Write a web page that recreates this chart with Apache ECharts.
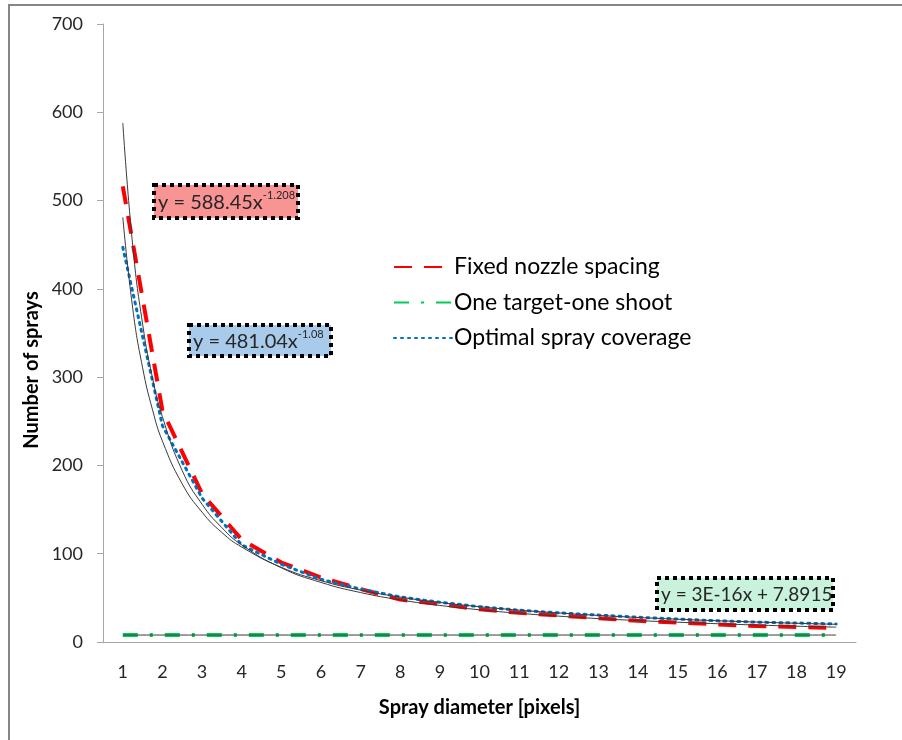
<!DOCTYPE html>
<html>
<head>
<meta charset="utf-8">
<title>Number of sprays vs spray diameter</title>
<script src="https://cdn.jsdelivr.net/npm/echarts@6/dist/echarts.min.js"></script>
<style>
  html, body { margin: 0; padding: 0; background: #fff; }
  #chart { width: 902px; height: 740px; }
</style>
</head>
<body>
<div id="chart"></div>
<script>
// spray diameter [pixels]
var categories = ['1', '2', '3', '4', '5', '6', '7', '8', '9', '10', '11', '12', '13', '14', '15', '16', '17', '18', '19']
var yTicks = [0, 100, 200, 300, 400, 500, 600, 700]

// number of sprays
var fixedNozzle = [516, 262, 168, 116, 90, 73, 60, 48, 43, 37, 33, 30, 27, 24, 22, 20, 18, 17, 16]
var oneTarget = [7.9, 7.9, 7.9, 7.9, 7.9, 7.9, 7.9, 7.9, 7.9, 7.9, 7.9, 7.9, 7.9, 7.9, 7.9, 7.9, 7.9, 7.9, 7.9]
var optimalCoverage = [447, 245, 163, 110, 88, 71, 60, 51, 45, 40, 36, 33, 30.5, 28, 26, 24, 22.5, 21.5, 20.5]

// trendlines at these diameters
var trendX = [1, 1.25, 1.5, 1.75, 2, 2.5, 3, 3.5, 4, 5, 6, 7, 8, 9, 10, 11, 12, 13, 14, 15, 16, 17, 18, 19]
var trendFixedY = [588, 449, 360, 299, 255, 194, 156, 129.5, 110, 84, 67.5, 56, 47.7, 41.4, 36.5, 32.5, 29.3, 26.5, 24.3, 22.4, 20.7, 19.2, 17.9, 16.8]
var trendOptimalY = [481, 378, 310.5, 263, 227.5, 179, 147, 124, 107.6, 84.6, 69.5, 58.8, 50.9, 44.8, 40, 36.1, 32.9, 30.1, 27.8, 25.8, 24.1, 22.6, 21.2, 20]
var trendOneTargetX = [1, 19]
var trendOneTargetY = [7.89, 7.89]

var FONT = 'Lato, "Open Sans", sans-serif'
var TEXT = '#262626'

var chart = echarts.init(document.getElementById('chart'))

function pairs(xs, ys) {
  return xs.map(function(x, i) { return [x, ys[i]] })
}

function trend(data) {
  return {
    type: 'line',
    xAxisIndex: 1,
    data: data,
    symbol: 'none',
    smooth: true,
    silent: true,
    lineStyle: { color: '#3a3a3a', width: 1 },
    z: 3
  }
}

// equation box: dotted border + rich text with superscript
function eqBox(x, y, w, h, fill, size, main, sup) {
  return {
    type: 'group',
    children: [{
      type: 'rect',
      shape: { x: x, y: y, width: w, height: h },
      style: { fill: fill, stroke: '#000', lineWidth: 4, lineDash: [4, 4] },
      z: 10
    }, {
      type: 'text',
      x: x + 4,
      y: y + h / 2 + 1,
      style: {
        text: sup ? '{a|' + main + '}{b|' + sup + '}' : '{a|' + main + '}',
        textVerticalAlign: 'middle',
        verticalAlign: 'middle',
        rich: {
          a: { fontSize: size, fontFamily: FONT, fill: TEXT, color: TEXT, lineHeight: 26 },
          b: { fontSize: 11, fontFamily: FONT, fill: TEXT, color: TEXT, verticalAlign: 'top', lineHeight: 26, padding: [0, 0, 4, 0] }
        }
      },
      z: 11
    }]
  }
}

chart.setOption({
  animation: false,
  backgroundColor: '#fff',
  grid: { left: 103, right: 46, top: 24, bottom: 98 },
  legend: {
    data: ['Fixed nozzle spacing', 'One target-one shoot', 'Optimal spray coverage'],
    orient: 'vertical',
    left: 388,
    top: 250,
    itemWidth: 58,
    itemHeight: 14,
    itemGap: 11.5,
    itemStyle: { opacity: 0 },
    textStyle: { fontSize: 23, lineHeight: 24, fontFamily: FONT, color: '#000', padding: [0, 0, 0, -3] }
  },
  xAxis: [{
    type: 'category',
    data: categories,
    name: 'Spray diameter [pixels]',
    nameLocation: 'middle',
    nameGap: 56,
    nameTextStyle: { fontSize: 20, fontWeight: 'bold', fontFamily: FONT, color: '#000' },
    axisLine: { lineStyle: { color: '#a6a6a6', width: 1 } },
    axisTick: { length: 7, lineStyle: { color: '#a6a6a6' } },
    axisLabel: { fontSize: 18, fontFamily: FONT, color: TEXT, margin: 21 }
  }, {
    // hidden scale for trendlines, aligned with the category centres
    type: 'value',
    min: 0.5,
    max: 19.5,
    show: false
  }],
  yAxis: {
    type: 'value',
    min: yTicks[0],
    max: yTicks[yTicks.length - 1],
    interval: 100,
    axisLine: { show: true, lineStyle: { color: '#a6a6a6', width: 1 } },
    axisTick: { show: true, length: 6, lineStyle: { color: '#a6a6a6' } },
    splitLine: { show: false },
    axisLabel: { fontSize: 18, fontFamily: FONT, color: TEXT, margin: 20 }
  },
  series: [{
    name: 'Fixed nozzle spacing',
    type: 'line',
    data: fixedNozzle,
    symbol: 'none',
    lineStyle: { color: '#ff0000', width: 4, type: [18, 12] },
    itemStyle: { color: '#ff0000' },
    z: 2
  }, {
    name: 'One target-one shoot',
    type: 'line',
    data: oneTarget,
    symbol: 'none',
    lineStyle: { color: '#00cc5a', width: 4, type: [15, 12, 3, 12] },
    itemStyle: { color: '#00cc5a' },
    z: 2
  }, {
    name: 'Optimal spray coverage',
    type: 'line',
    data: optimalCoverage,
    symbol: 'none',
    lineStyle: { color: '#0070c0', width: 3, type: [2, 5], cap: 'round' },
    itemStyle: { color: '#0070c0' },
    z: 2
  },
  trend(pairs(trendX, trendFixedY)),
  trend(pairs(trendX, trendOptimalY)),
  trend(pairs(trendOneTargetX, trendOneTargetY))
  ],
  graphic: [
    // chart area border
    {
      type: 'rect',
      shape: { x: 9, y: 5, width: 1000, height: 1000 },
      style: { fill: 'none', stroke: '#868686', lineWidth: 2 },
      silent: true
    },
    {
      type: 'text',
      x: 32,
      y: 370,
      rotation: Math.PI / 2,
      style: {
        text: 'Number of sprays',
        fontSize: 20,
        fontWeight: 'bold',
        fontFamily: FONT,
        fill: '#000',
        textAlign: 'center',
        textVerticalAlign: 'middle'
      }
    },
    eqBox(154, 185, 144, 33, '#f99494', 20, 'y = 588.45x', '-1.208'),
    eqBox(189, 325, 142, 31, '#a9cbeb', 20, 'y = 481.04x', '-1.08'),
    eqBox(657, 578, 176, 32, '#c9f2dc', 19, 'y = 3E-16x + 7.8915', null)
  ]
})
</script>
</body>
</html>
